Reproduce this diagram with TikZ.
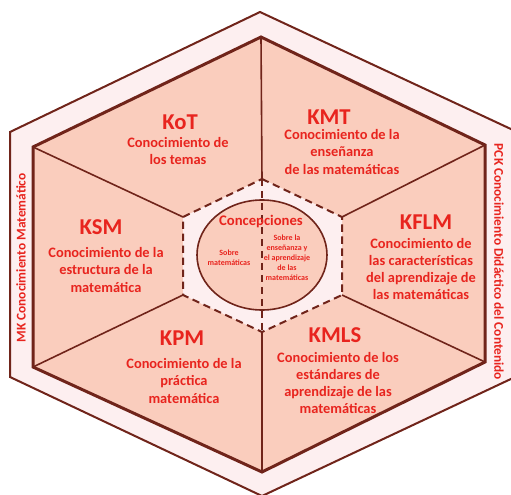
\documentclass[tikz,border=0pt]{standalone}
\usepackage{fontspec}
\setmainfont{Carlito}
\definecolor{lineRed}{RGB}{112,36,26}
\definecolor{salmonFill}{RGB}{250,205,189}
\definecolor{bandPink}{RGB}{253,239,240}
\definecolor{txtRed}{RGB}{232,36,30}
\tikzset{every picture/.style={line width=0.75pt}}
\tikzset{
	area title/.style={text=txtRed, font=\fontsize{17}{19}\selectfont\bfseries},
	area text/.style={text=txtRed, align=center, font=\fontsize{10.8}{12.8}\selectfont\bfseries},
	band text/.style={text=txtRed, font=\fontsize{10}{12}\selectfont\bfseries},
	tiny text/.style={text=txtRed, align=center, font=\fontsize{6}{7.5}\selectfont\bfseries}}

\begin{document}
\begin{tikzpicture}[x=0.75pt,y=0.75pt,yscale=-1,xscale=1]
	\useasboundingbox (0,0) rectangle (511,495);

	%Hexagon corners
	\coordinate (o1) at (260,12);  \coordinate (o2) at (513,130);
	\coordinate (o3) at (513,378); \coordinate (o4) at (262,496);
	\coordinate (o5) at (10,377);  \coordinate (o6) at (10,132);
	\coordinate (i1) at (261,37);  \coordinate (i2) at (485,145);
	\coordinate (i3) at (485,362); \coordinate (i4) at (262,472);
	\coordinate (i5) at (33,367);  \coordinate (i6) at (33,147);
	\coordinate (c1) at (262,179); \coordinate (c2) at (342,217);
	\coordinate (c3) at (342,295); \coordinate (c4) at (262,332);
	\coordinate (c5) at (183,295); \coordinate (c6) at (183,217);

	%Outer band
	\draw  [color=lineRed, fill=bandPink, line width=1.5]  (o1) -- (o2) -- (o3) -- (o4) -- (o5) -- (o6) -- cycle ;
	%Inner hexagon
	\draw  [color=lineRed, fill=salmonFill, line width=2.25]  (i1) -- (i2) -- (i3) -- (i4) -- (i5) -- (i6) -- cycle ;

	%Spokes
	\draw [color=lineRed, line width=1.2]   (c1) -- (i1) ;
	\draw [color=lineRed, line width=1.2]   (c2) -- (i2) ;
	\draw [color=lineRed, line width=1.2]   (c3) -- (i3) ;
	\draw [color=lineRed, line width=1.2]   (c4) -- (i4) ;
	\draw [color=lineRed, line width=1.2]   (c5) -- (i5) ;
	\draw [color=lineRed, line width=1.2]   (c6) -- (i6) ;

	%Centre hexagon
	\draw  [color=lineRed, fill=bandPink, line width=1.5, dash pattern={on 5.5pt off 3.5pt}]  (c1) -- (c2) -- (c3) -- (c4) -- (c5) -- (c6) -- cycle ;
	\draw  [color=lineRed, fill=salmonFill, line width=1.2]  (262,255) circle [x radius= 65, y radius= 55]   ;
	\draw [color=lineRed, line width=1.5, dash pattern={on 5.5pt off 3.5pt}]   (c1) -- (c4) ;

	% Text Node
	\node (conc) at (261,222) [text=txtRed, font=\fontsize{11}{13}\selectfont\bfseries] {Concepciones};
	\node (smat) at (229,258) [tiny text] {Sobre\\matemáticas};
	\node (sens) at (287,258) [tiny text] {Sobre la\\enseñanza y\\el aprendizaje\\de las\\matemáticas};

	% Text Node
	\node (kot) at (180,122) [area title] {KoT};
	\node (kottxt) at (178,151) [area text] {Conocimiento de\\los temas};
	% Text Node
	\node (kmt) at (329,117) [area title] {KMT};
	\node (kmttxt) at (342,152) [area text] {Conocimiento de la\\enseñanza\\de las matemáticas};
	% Text Node
	\node (ksm) at (101,227) [area title] {KSM};
	\node (ksmtxt) at (106,270) [area text] {Conocimiento de la\\estructura de la\\matemática};
	% Text Node
	\node (kflm) at (426,222) [area title] {KFLM};
	\node (kflmtxt) at (421,269) [area text] {Conocimiento de\\las características\\del aprendizaje de\\las matemáticas};
	% Text Node
	\node (kpm) at (182,338) [area title] {KPM};
	\node (kpmtxt) at (184,381) [area text] {Conocimiento de la\\práctica\\matemática};
	% Text Node
	\node (kmls) at (335,335) [area title] {KMLS};
	\node (kmlstxt) at (338,383) [area text] {Conocimiento de los\\estándares de\\aprendizaje de las\\matemáticas};

	% Band labels
	\node (mk) at (21,258) [band text, rotate=90] {MK Conocimiento Matemático};
	\node (pck) at (499,262) [band text, rotate=-90] {PCK Conocimiento Didáctico del Contenido};

\end{tikzpicture}
\end{document}
